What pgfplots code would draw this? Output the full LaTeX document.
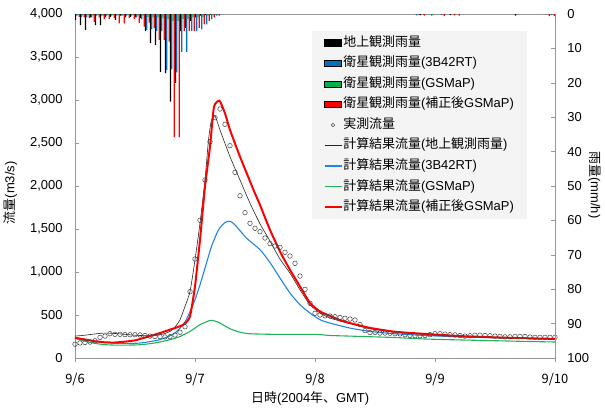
\documentclass[border=0pt]{standalone}
\usepackage{pgfplots}
\pgfplotsset{compat=1.18}
\usepackage{pgfplotstable}
\usepackage{fontspec}
\setmainfont{Liberation Sans}
\newfontfamily\jp{Noto Sans CJK JP}
\definecolor{kbar}{RGB}{0,0,0}
\definecolor{bbar}{RGB}{0,112,192}
\definecolor{gbar}{RGB}{0,176,80}
\definecolor{rbar}{RGB}{255,0,0}
\definecolor{bline}{RGB}{31,133,222}
\definecolor{gline}{RGB}{33,178,89}
\definecolor{axgray}{RGB}{150,150,150}
\definecolor{legbg}{RGB}{244,244,244}

\pgfplotstableread{
h K B G R
0 1.7 0.5 0.3 0.8
1 3.2 0.8 0.3 1.0
2 4.6 1.0 0.3 1.2
3 1.0 1.0 0.5 2.3
4 3.2 0.5 0.3 1.0
5 3.2 0.5 0.5 1.5
6 1.0 0.5 0.3 1.5
7 0.8 0.5 0.3 1.2
8 1.7 0.5 0.3 2.7
9 0.5 0.5 0.5 2.7
10 1.0 0.5 0.3 1.2
11 0.8 0.5 0.3 1.5
12 1.0 1.0 0.5 2.6
13 1.2 1.5 0.5 3.7
14 5.0 4.6 0.8 2.5
15 8.5 4.5 1.0 4.0
16 9.0 5.0 1.0 7.5
17 16.8 5.0 1.2 7.5
18 17.2 16.3 1.5 8.0
19 25.5 16.0 2.0 35.8
20 20.0 17.0 2.0 35.8
21 5.0 11.0 1.5 5.0
22 4.0 11.0 1.5 5.0
23 2.0 5.0 1.0 5.0
24 1.0 5.0 1.0 4.0
25 0.5 4.5 0.8 3.0
26 0.3 3.0 0.5 2.0
27 0.2 1.5 0.3 1.0
28 0.0 0.5 0.3 0.5
68 0.0 0.4 0.0 0.3
69 0.3 0.0 0.0 0.5
71 0.0 0.5 0.3 0.0
73 0.0 0.3 0.0 0.6
75 0.3 0.0 0.0 0.4
76 0.0 0.0 0.0 0.5
88 0.5 0.0 0.0 0.0
94 0.0 0.0 0.0 0.6
95 0.0 0.3 0.0 0.6
}\rain

\pgfplotstableread{
h q
0 160
1 175
2 180
3 185
4 200
5 240
6 255
7 283
8 275
9 275
10 272
11 270
12 270
13 268
14 262
15 255
16 250
17 248
18 245
19 248
20 267
21 299
22 364
23 771
24 1151
25 1601
26 2070
27 2515
28 2794
29 2895
30 2717
31 2469
32 2159
33 1887
34 1690
35 1566
36 1508
37 1469
38 1395
39 1330
40 1302
41 1287
42 1229
43 1186
44 1101
45 953
46 798
47 636
48 520
49 500
50 490
51 488
52 480
53 470
54 462
55 453
56 442
57 390
58 318
59 296
60 297
61 290
62 290
63 288
64 282
65 280
66 271
67 262
68 259
69 259
70 262
71 271
72 282
73 282
74 278
75 271
76 268
77 262
78 255
79 259
80 265
81 265
82 262
83 259
84 255
85 251
86 246
87 246
88 251
89 251
90 250
91 244
92 240
93 240
94 240
95 240
96 240
}\obs

\pgfplotsset{
  barleg/.style={legend image code/.code={\fill[##1] (0pt,-3.2pt) rectangle (17pt,3.2pt);}},
  lineleg/.style={legend image code/.code={\draw[##1] (0pt,0pt) -- (17pt,0pt);}},
  markleg/.style={legend image code/.code={\draw[##1] (8.5pt,0pt) circle (1.8pt);}},
}

\begin{document}
\begin{tikzpicture}
\useasboundingbox (-75bp,-54bp) rectangle (530bp,358bp);
% ---------------- flow axis ----------------
\begin{axis}[
  at={(0,0)}, anchor=south west,
  width=480bp, height=344bp, scale only axis,
  xmin=0, xmax=96, ymin=0, ymax=4000,
  xtick={0,24,48,72,96}, xticklabels={9/6,9/7,9/8,9/9,9/10},
  ytick={0,500,...,4000},
  scaled y ticks=false,
  /pgf/number format/1000 sep={,},
  /pgf/number format/assume math mode=true,
  xtick pos=lower, ytick pos=left,
  tick align=inside, major tick length=4pt,
  axis line style={axgray, line width=0.6pt},
  tick style={axgray, line width=0.6pt},
  xtick style={yshift=-4pt},
  tick label style={font=\fontsize{13}{15}\selectfont},
  xticklabel style={font=\jp\fontsize{13}{15}\selectfont, yshift=-12pt},
  yticklabel style={xshift=-9pt},
  every axis y label/.style={at={(axis description cs:-0.135,0.48)}, rotate=90, anchor=center},
  every axis x label/.style={at={(axis description cs:0.49,0)}, anchor=center, yshift=-40bp},
  ylabel={\fontsize{13}{15}\selectfont{\jp 流量}(m3/s)},
  xlabel={\fontsize{13}{15}\selectfont{\jp 日時}(2004{\jp 年、}GMT)},
  clip=true,
]
\addplot[only marks, mark=o, mark size=2.3pt, mark options={line width=0.5pt, draw=black!75}] table[x=h, y=q] {\obs};
\addplot[black!85, line width=0.6pt, smooth, tension=0.4] coordinates {
(0,255)(2,265)(4,280)(6,290)(8,285)(10,275)(12,265)(14,260)(16,262)(17,271)(18,285)(19,309)(20,360)(21,445)(22,600)(23,773)(24,1141)(25,1568)(26,2070)(26.7,2535)(27.3,2768)(28,2814)(29,2652)(31,2341)(33,2070)(35,1800)(37,1560)(39,1360)(41,1150)(43,987)(45,793)(47,619)(49,523)(51,465)(53,430)(55,400)(59,340)(64,300)(70,275)(77,252)(84,237)(90,228)(96,220)};
\addplot[bline, line width=1.1pt, smooth, tension=0.4] coordinates {
(0,240)(2,215)(4,195)(6,180)(8,172)(10,170)(13,174)(17,213)(20,290)(22,420)(23,540)(24,677)(25,850)(25.7,987)(27.3,1296)(28.7,1490)(30,1575)(31,1590)(32,1548)(34.3,1394)(37,1260)(39,1110)(41,930)(43,755)(45,619)(47,523)(49,445)(51,406)(55,348)(59,309)(64,282)(70,262)(77,245)(84,235)(90,228)(96,222)};
\addplot[gline, line width=1.1pt, smooth, tension=0.4] coordinates {
(0,230)(2,195)(4,170)(6,155)(8,150)(10,150)(13,154)(16,175)(19,213)(21,250)(23,309)(25,387)(27,437)(28,430)(29,406)(31,340)(33,300)(35,282)(40,275)(48,275)(51,262)(57,251)(64,238)(70,221)(77,210)(84,201)(90,193)(96,186)};
\addplot[rbar, line width=2pt, smooth, tension=0.3] coordinates {
(0,235)(2,215)(4,195)(6,182)(8,180)(10,190)(12,205)(13,221)(15,255)(17,290)(19,330)(20,348)(21,370)(22,400)(23,483)(24,832)(25,1374)(26,1993)(27,2458)(27.8,2922)(28.9,2992)(30,2845)(31,2652)(33,2341)(35.7,1955)(37,1780)(39,1490)(41,1238)(43,1025)(45,832)(47,639)(49,541)(51,490)(53,440)(55,406)(59,350)(64,305)(70,280)(77,255)(84,240)(90,230)(96,222)};
\end{axis}
% ---------------- rain axis ----------------
\begin{axis}[
  at={(0,0)}, anchor=south west,
  width=480bp, height=344bp, scale only axis,
  xmin=0, xmax=96, ymin=0, ymax=100, y dir=reverse,
  hide x axis, axis y line*=right,
  ytick={0,10,...,100},
  /pgf/number format/assume math mode=true,
  tick align=inside, major tick length=4pt,
  axis line style={axgray, line width=0.6pt},
  tick style={axgray, line width=0.6pt},
  tick label style={font=\fontsize{13}{15}\selectfont},
  yticklabel style={xshift=9pt},
  every axis y label/.style={at={(axis description cs:1.083,0.503)}, rotate=-90, anchor=center},
  ylabel={\fontsize{13}{15}\selectfont{\jp 雨量}(mm/h)},
  legend style={at={(axis description cs:0.493,0.95)}, anchor=north west,
    fill=legbg, draw=none, inner xsep=12pt, inner ysep=4pt,
    font=\fontsize{13}{15}\selectfont, row sep=5.6pt,
    nodes={inner sep=1pt, text height=10pt, text depth=3pt}},
  legend cell align=left,
]
\addplot[ybar, bar width=0.25, bar shift=0pt, fill=kbar, draw=none, forget plot] table[x expr=\thisrow{h}+0.125, y=K] {\rain};
\addplot[ybar, bar width=0.25, bar shift=0pt, fill=bbar, draw=none, forget plot] table[x expr=\thisrow{h}+0.375, y=B] {\rain};
\addplot[ybar, bar width=0.25, bar shift=0pt, fill=gbar, draw=none, forget plot] table[x expr=\thisrow{h}+0.625, y=G] {\rain};
\addplot[ybar, bar width=0.25, bar shift=0pt, fill=rbar, draw=none, forget plot] table[x expr=\thisrow{h}+0.875, y=R] {\rain};
\addlegendimage{barleg, fill=kbar}
\addlegendentry{{\jp 地上観測雨量}}
\addlegendimage{barleg, fill=bbar}
\addlegendentry{{\jp 衛星観測雨量}(3B42RT)}
\addlegendimage{barleg, fill=gbar}
\addlegendentry{{\jp 衛星観測雨量}(GSMaP)}
\addlegendimage{barleg, fill=rbar}
\addlegendentry{{\jp 衛星観測雨量}({\jp 補正後}GSMaP)}
\addlegendimage{markleg, draw=black!75, line width=0.5pt}
\addlegendentry{{\jp 実測流量}}
\addlegendimage{lineleg, black!85, line width=0.6pt}
\addlegendentry{{\jp 計算結果流量}({\jp 地上観測雨量})}
\addlegendimage{lineleg, bline, line width=1.1pt}
\addlegendentry{{\jp 計算結果流量}(3B42RT)}
\addlegendimage{lineleg, gline, line width=1.1pt}
\addlegendentry{{\jp 計算結果流量}(GSMaP)}
\addlegendimage{lineleg, rbar, line width=1.6pt}
\addlegendentry{{\jp 計算結果流量}({\jp 補正後}GSMaP)}
\end{axis}
\end{tikzpicture}
\end{document}
